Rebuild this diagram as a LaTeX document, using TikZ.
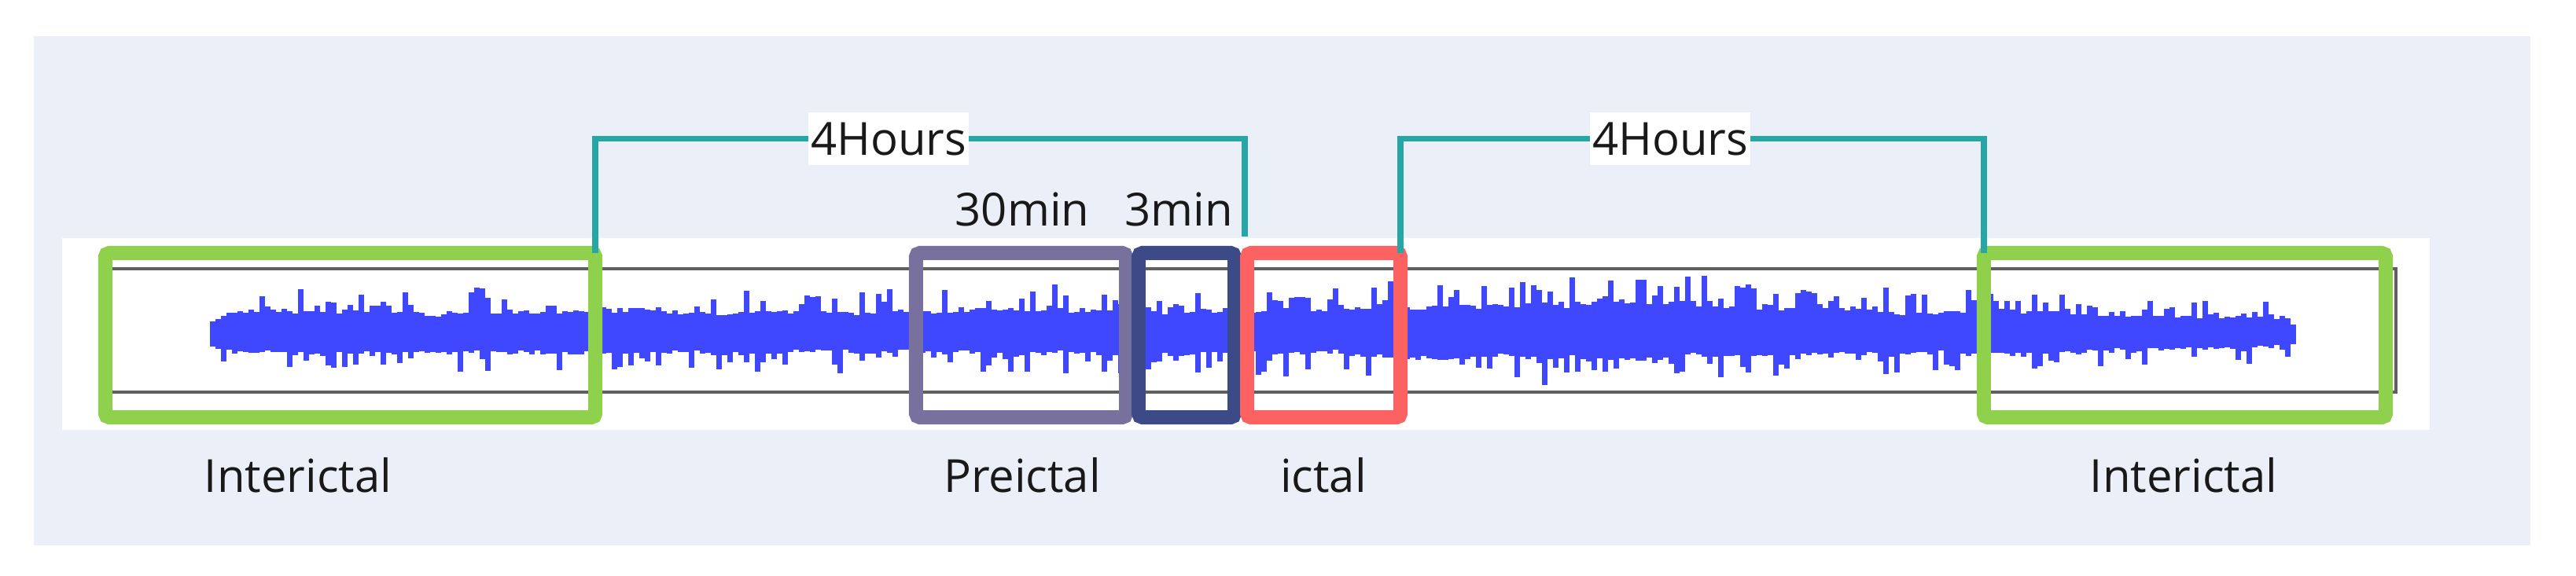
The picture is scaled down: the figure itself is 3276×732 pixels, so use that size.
\documentclass[tikz,border=0pt]{standalone}
\usepackage{fontspec}
\setmainfont{Open Sans}
\definecolor{panel}{RGB}{235,239,248}
\definecolor{wave}{RGB}{64,72,255}
\definecolor{grn}{RGB}{143,208,76}
\definecolor{purp}{RGB}{120,113,158}
\definecolor{navy}{RGB}{60,75,135}
\definecolor{redb}{RGB}{253,98,98}
\definecolor{tealc}{RGB}{38,166,164}
\definecolor{gline}{RGB}{95,95,95}
\tikzset{
  seg/.style={draw, line width=5.1pt, rounded corners=0.05cm, inner sep=0pt, outer sep=0pt, minimum height=2.09cm},
  brk/.style={draw=tealc, line width=2.2pt},
  lbl/.style={font=\fontsize{16.5}{20}\selectfont, text=black!90, inner sep=0pt, anchor=base},
  hrs/.style={fill=white, font=\fontsize{16.5}{20}\selectfont, text=black!90, inner xsep=0.03cm, inner ysep=0pt, minimum height=0.67cm, outer sep=0pt}
}
\begin{document}
\begin{tikzpicture}[x=0.01cm,y=-0.01cm]
\useasboundingbox (0,0) rectangle (3276,732);
\fill[white] (0,0) rectangle (3276,732);
\fill[panel] (43,46) rectangle (3218,694);
\fill[white] (79,303) rectangle (3090,547);
\draw[gline, line width=0.9pt] (134,342) -- (3047,342) -- (3047,499) -- (134,499);
% waveform
\pgfmathsetseed{11}
\gdef\bu{27}\gdef\bd{20}
\foreach \i in {0,...,378}{
  \pgfmathsetmacro\xx{267+7*\i}
  \pgfmathsetmacro\ea{min(1,0.6+0.4*(\xx-267)/30)}
  \pgfmathsetmacro\eb{min(1,0.6+0.4*(2914-\xx)/30)}
  \pgfmathsetmacro\em{1+0.35*exp(max(-9,-((\xx-2020)/230)^2))-0.22*(\xx>2650)}
  \pgfmathsetmacro\env{\ea*\eb*\em}
  \pgfmathsetmacro\nbu{0.8*\bu+0.2*(19+16*rnd)}
  \pgfmathsetmacro\nbd{0.8*\bd+0.2*(13+13*rnd)}
  \global\let\bu\nbu \global\let\bd\nbd
  \pgfmathsetmacro\up{\env*(\nbu+6*rnd+(rnd>0.55)*rnd*30)}
  \pgfmathsetmacro\dn{\env*(\nbd+5*rnd+(rnd>0.62)*rnd*26)}
  \fill[wave] (\xx,{427-\up}) rectangle ({\xx+7.4},{427+\dn});
}
% segment boxes
\node[seg, draw=grn, minimum width=6.23cm] (g1) at (445.5,426.5) {};
\node[seg, draw=purp, minimum width=2.67cm] (pre) at (1298.5,426.5) {};
\node[seg, draw=navy, minimum width=1.22cm] (p3) at (1509,426.5) {};
\node[seg, draw=redb, minimum width=1.95cm] (ict) at (1683.5,426.5) {};
\node[seg, draw=grn, minimum width=5.11cm] (g2) at (2778.5,426.5) {};
% hour labels and brackets
\node[hrs] (h1) at (1130,176.5) {4Hours};
\node[hrs] (h2) at (2124,176.5) {4Hours};
\coordinate (t1) at (1583,301);
\draw[brk] (g1.north east) |- (h1.west);
\draw[brk] (h1.east) -| (t1);
\draw[brk] (ict.north east) |- (h2.west);
\draw[brk] (h2.east) -| (g2.north west);
% texts
\node[lbl] (m30) at (1300,287) {30min};
\node[lbl] (m3) at (1499,287) {3min};
\node[lbl] (l1) at (379,626) {Interictal};
\node[lbl] (l2) at (1300,626) {Preictal};
\node[lbl] (l3) at (1683,626) {ictal};
\node[lbl] (l4) at (2777,626) {Interictal};
\end{tikzpicture}
\end{document}
